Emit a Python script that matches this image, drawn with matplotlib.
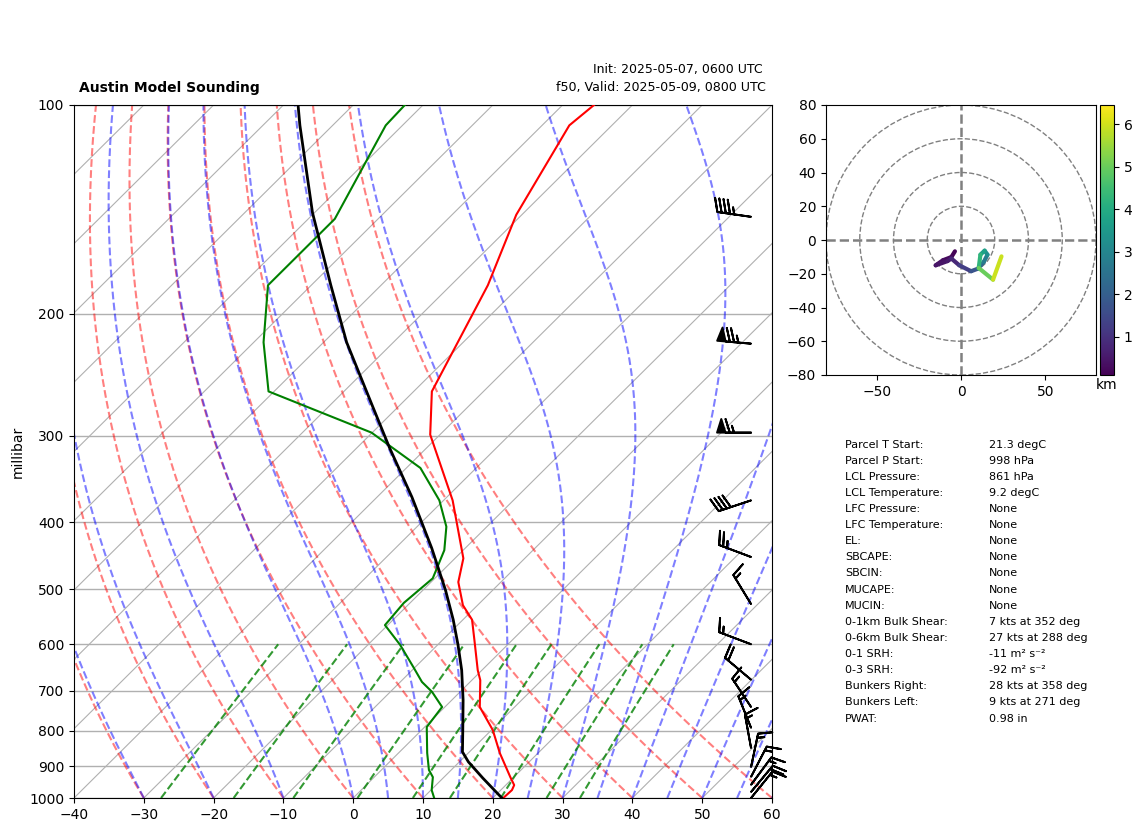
import numpy as np
import matplotlib
matplotlib.use('Agg')
import matplotlib.pyplot as plt
from matplotlib.collections import LineCollection
from matplotlib.colors import Normalize
from matplotlib.patches import Circle

# sounding
temp_p = [100, 107, 144, 182, 259, 299, 372, 451, 488, 527, 553, 592, 654, 676, 739, 798, 861, 933, 958, 974, 1000]
temp_t = [-65.5, -66.1, -60.8, -54.7, -47.4, -41.4, -28.7, -18.8, -16.1, -12.1, -8.7, -5.4, -0.6, 1.2,
          5.0, 10.2, 14.5, 19.5, 21.2, 21.6, 21.5]

dewp_p = [100, 107, 146, 182, 220, 259, 297, 334, 372, 406, 439, 482, 523, 563, 601, 647, 680, 703, 739, 790, 861,
          911, 933, 974, 1000]
dewp_t = [-92.6, -92.4, -86.2, -86.2, -78.6, -70.8, -50.1, -38.0, -30.6, -25.8, -22.7, -20.3, -20.9, -20.4,
          -15.4, -10.3, -6.9, -4.0, -0.4, 0.3, 4.1, 6.8, 8.4, 10.1, 11.6]

parcel_p = [100, 107, 143, 182, 220, 271, 312, 368, 436, 501, 553, 601, 654, 722, 798, 858, 887, 936, 1000]
parcel_t = [-107.9, -104.7, -90.3, -77.2, -66.7, -54.0, -45.4, -35.0, -24.8, -16.8, -11.4, -7.1, -2.9, 1.6,
            5.9, 9.0, 11.3, 15.7, 21.3]

barb_p = [145, 221, 297, 372, 449, 525, 600, 675, 739, 792, 847, 902, 932, 957, 980, 1000]
barb_u = [44.5, 74.7, 65, 37.9, 23.4, 7.8, 14, 15.3, 8.3, 5.6, 2.7, -3.1, -6.9, -8.9, -12.8, -9.4]
barb_v = [-6.4, -6.4, 0, 12.6, -8.8, -12.8, -5.3, -12.9, -12.5, -13.9, -14.8, -14.7, -13.3, -12.0, -15.4, -11.6]

hodo_u = [-3.6, -5.7, -10.7, -15, -8, -5.7, -1, 6, 10, 13.5, 15.7, 14, 11.5, 10.5, 19, 24]
hodo_v = [-6.7, -10.1, -12, -15, -12.5, -11, -15, -18.5, -17, -13, -8.7, -6.3, -8.7, -16.6, -23.5, -9.7]
hodo_z = [0.1, 0.2, 0.3, 0.4, 0.5, 0.6, 1.0, 1.5, 2.0, 2.5, 3.0, 3.5, 4.0, 4.5, 5.5, 6.4]

table_labels = ['Parcel T Start:', 'Parcel P Start:', 'LCL Pressure:', 'LCL Temperature:', 'LFC Pressure:',
                'LFC Temperature:', 'EL:', 'SBCAPE:', 'SBCIN:', 'MUCAPE:', 'MUCIN:', '0-1km Bulk Shear:',
                '0-6km Bulk Shear:', '0-1 SRH:', '0-3 SRH:', 'Bunkers Right:', 'Bunkers Left:', 'PWAT:']
table_values = ['21.3 degC', '998 hPa', '861 hPa', '9.2 degC', 'None', 'None', 'None', 'None', 'None', 'None', 'None',
                '7 kts at 352 deg', '27 kts at 288 deg', '-11 m\u00b2 s\u207b\u00b2', '-92 m\u00b2 s\u207b\u00b2',
                '28 kts at 358 deg', '9 kts at 271 deg', '0.98 in']

# background lines
dry_t0 = list(range(-40, 61, 10))
moist_t0 = [-40, -30, -20, -10] + list(range(0, 61, 5))
mix_w = [0.0004, 0.001, 0.002, 0.004, 0.007, 0.01, 0.016, 0.024, 0.032]
isotherms = list(range(-140, 61, 10))

W, H = 1142, 832
SKEW = 100.0  # degC per decade of pressure


def skew(t, p):
    return np.asarray(t, dtype=float) + SKEW * np.log10(1000.0 / np.asarray(p, dtype=float))


def sat_mix(t_k, p):
    es = 6.112 * np.exp(17.67 * (t_k - 273.15) / (t_k - 29.65))
    return 0.622 * es / (p - es)


def moist_slope(t_k, p):
    rd, cp, lv = 287.0, 1005.0, 2.501e6
    rs = sat_mix(t_k, p)
    return (rd * t_k + lv * rs) / (cp + lv ** 2 * rs * 0.622 / (rd * t_k ** 2)) / p


def moist_adiabat(t0, p):
    t = np.zeros(len(p))
    t[0] = t0 + 273.15
    for i in range(1, len(p)):
        dp = p[i] - p[i - 1]
        k1 = moist_slope(t[i - 1], p[i - 1])
        k2 = moist_slope(t[i - 1] + 0.5 * dp * k1, p[i - 1] + 0.5 * dp)
        t[i] = t[i - 1] + dp * k2
    return t - 273.15


def px_axes(x0, y0, x1, y1):
    return [x0 / W, 1 - y1 / H, (x1 - x0) / W, (y1 - y0) / H]


fig = plt.figure(figsize=(W / 100, H / 100), dpi=100)
ax = fig.add_axes(px_axes(74, 105, 772, 798))
ax.set_yscale('log')
ax.set_xlim(-40, 60)
ax.set_ylim(1000, 100)

pp = np.linspace(1000, 100, 400)
for t in isotherms:
    ax.plot(skew([t, t], [1000, 100]), [1000, 100], color='#b0b0b0', lw=0.8, zorder=1)
for t in dry_t0:
    ax.plot(skew((t + 273.15) * (pp / 1000) ** 0.2857 - 273.15, pp), pp, 'r--', lw=1.5, alpha=0.5, zorder=2)
for t in moist_t0:
    ax.plot(skew(moist_adiabat(t, pp), pp), pp, 'b--', lw=1.5, alpha=0.5, zorder=2)
pm = np.linspace(1000, 600, 50)
for w in mix_w:
    ln_e = np.log(pm * w / (0.622 + w) / 6.112)
    ax.plot(skew(243.5 * ln_e / (17.67 - ln_e), pm), pm, 'g--', lw=1.5, alpha=0.8, zorder=2)

ax.plot(skew(temp_t, temp_p), temp_p, color='r', lw=1.5, zorder=3)
ax.plot(skew(dewp_t, dewp_p), dewp_p, color='g', lw=1.5, zorder=3)
ax.plot(skew(parcel_t, parcel_p), parcel_p, color='k', lw=2, zorder=4)

ax.barbs(np.full(len(barb_p), 0.97), barb_p, barb_u, barb_v, transform=ax.get_yaxis_transform(),
         clip_on=False, zorder=5, length=7, linewidth=1.4)

ax.yaxis.grid(True, which='major', color='#b0b0b0', lw=1.0)
ax.set_axisbelow(True)
ax.set_yticks(range(100, 1001, 100))
ax.set_yticklabels([str(v) for v in range(100, 1001, 100)])
ax.minorticks_off()
ax.set_xticks(range(-40, 61, 10))
ax.set_ylabel('millibar', labelpad=3)

fig.text(79 / W, 1 - 88 / H, 'Austin Model Sounding', fontweight='bold', fontsize=10, va='center', ha='left')
fig.text(763 / W, 1 - 70 / H, 'Init: 2025-05-07, 0600 UTC', fontsize=9, va='center', ha='right')
fig.text(766 / W, 1 - 88 / H, 'f50, Valid: 2025-05-09, 0800 UTC', fontsize=9.1, va='center', ha='right')

# hodograph
hax = fig.add_axes(px_axes(826, 105, 1096, 375))
hax.set_xlim(-80, 80)
hax.set_ylim(-80, 80)
hax.set_xticks([-50, 0, 50])
hax.set_yticks(range(-80, 81, 20))
for r in [20, 40, 60, 80]:
    hax.add_patch(Circle((0, 0), r, fill=False, ec='gray', ls='--', lw=1))
hax.axhline(0, color='gray', ls='--', lw=1.8)
hax.axvline(0, color='gray', ls='--', lw=1.8)

pts = np.column_stack([hodo_u, hodo_v])
segs = np.stack([pts[:-1], pts[1:]], axis=1)
norm = Normalize(0.1, 6.45)
lc = LineCollection(segs, cmap='viridis', norm=norm, linewidths=3, capstyle='round')
lc.set_array(np.array(hodo_z[:-1]) / 2 + np.array(hodo_z[1:]) / 2)
hax.add_collection(lc)

cax = fig.add_axes(px_axes(1100, 105, 1114, 375))
cb = fig.colorbar(lc, cax=cax)
cb.set_ticks([1, 2, 3, 4, 5, 6])
cax.set_xlabel('km', labelpad=2)

for i, (lab, val) in enumerate(zip(table_labels, table_values)):
    y = 1 - (444.5 + 16.12 * i) / H
    fig.text(845 / W, y, lab, fontsize=8, va='center')
    fig.text(989 / W, y, val, fontsize=8, va='center')

fig.savefig('out.png', dpi=100)
